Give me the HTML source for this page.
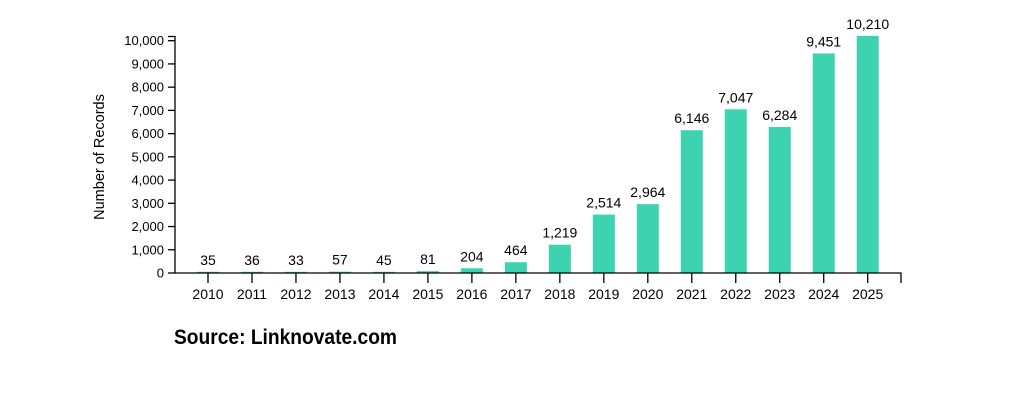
<!DOCTYPE html>
<html><head><meta charset="utf-8"><style>html,body{margin:0;padding:0;background:#fff}svg{display:block}</style></head><body>
<svg width="1024" height="414" xmlns="http://www.w3.org/2000/svg" font-family="Liberation Sans, sans-serif">
<g fill="#3dd3b0" id="bars"></g>
<g id="labs" font-size="14" fill="#000" text-anchor="middle"></g>
<g stroke="#000" stroke-width="1.3" fill="none">
<path d="M168 36.5H175V273H901V283"/>
</g>
<g id="yt" font-size="13" text-anchor="end" fill="#000"></g>
<text transform="translate(104,157) rotate(-90)" font-size="14.5" text-anchor="middle">Number of Records</text>
<text x="174" y="344" font-size="21" font-weight="bold" textLength="223" lengthAdjust="spacingAndGlyphs">Source: Linknovate.com</text>
<script>
var v=[35,36,33,57,45,81,204,464,1219,2514,2964,6146,7047,6284,9451,10210];
var ns="http://www.w3.org/2000/svg",b=document.getElementById('bars'),l=document.getElementById('labs'),yt=document.getElementById('yt');
function e(t,a,p,txt){var n=document.createElementNS(ns,t);for(var k in a)n.setAttribute(k,a[k]);if(txt!=null)n.textContent=txt;p.appendChild(n);}
var s=232.3/10000;
v.forEach(function(d,i){var cx=208+i*43.98,h=Math.max(d*s,1.2);
e('rect',{x:cx-11,y:273-h,width:22,height:h},b);
e('text',{x:cx,y:273-h-7},l,d.toLocaleString('en-US'));
e('text',{x:cx,y:299},l,String(2010+i));
e('line',{x1:cx,x2:cx,y1:273,y2:283,stroke:'#000','stroke-width':1.3},l);});
for(var k=0;k<=10;k++){var y=273-k*1000*s;
e('line',{x1:168,x2:175,y1:y,y2:y,stroke:'#000','stroke-width':1.3},yt);
e('text',{x:164,y:y+4.5},yt,(k*1000).toLocaleString('en-US'));}
</script>
</svg>
</body></html>
